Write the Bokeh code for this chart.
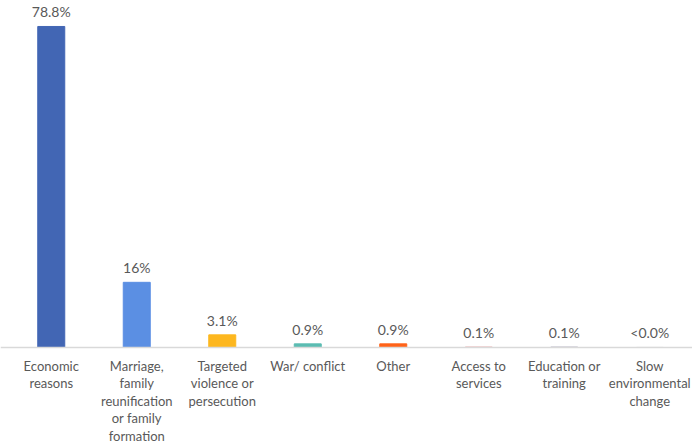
from bokeh.plotting import figure
from bokeh.models import ColumnDataSource, Range1d, Span
from bokeh.core.properties import value
from bokeh.embed import file_html
from bokeh.resources import INLINE

categories = [
    "Economic\nreasons",
    "Marriage,\nfamily\nreunification\nor family\nformation",
    "Targeted\nviolence or\npersecution",
    "War/ conflict",
    "Other",
    "Access to\nservices",
    "Education or\ntraining",
    "Slow\nenvironmental\nchange",
]
values = [78.8, 16.0, 3.1, 0.9, 0.9, 0.1, 0.1, 0.02]
value_labels = ["78.8%", "16%", "3.1%", "0.9%", "0.9%", "0.1%", "0.1%", "<0.0%"]
colors = ["#4266B4", "#5B8FE3", "#FDB71F", "#5BBCB2", "#FF6319", "#E39A9A", "#A8A3B8", "#C9C9C9"]

x = list(range(len(categories)))
src = ColumnDataSource(dict(x=x, top=values, lab=value_labels, cat=categories, color=colors))

W, H = 692, 446
px_per_unit = 4.074
base_px = 347  # baseline distance from figure top
slot = 85.5
p = figure(width=W, height=H, output_backend="svg", toolbar_location=None,
           min_border=0, outline_line_color=None)
p.x_range = Range1d(-50.75 / slot, (W - 50.75) / slot)
p.y_range = Range1d(-(H - base_px) / px_per_unit, base_px / px_per_unit)
p.axis.visible = False
p.grid.visible = False

p.vbar(x="x", top="top", bottom=0, width=27 / slot, color="color", source=src)
p.add_layout(Span(location=0, dimension="width", line_color="#D9D9D9", line_width=1.5))

font = value("Lato")
p.text(x="x", y="top", text="lab", source=src, text_align="center", text_baseline="bottom",
       y_offset=-6, text_font=font, text_font_size="14px", text_color="#595959")
p.text(x="x", y=0, text="cat", source=src, text_align="center", text_baseline="top",
       y_offset=10, text_font=font, text_font_size="13px", text_color="#595959",
       text_line_height=1.1)

open("out.html", "w").write(file_html(p, INLINE))
